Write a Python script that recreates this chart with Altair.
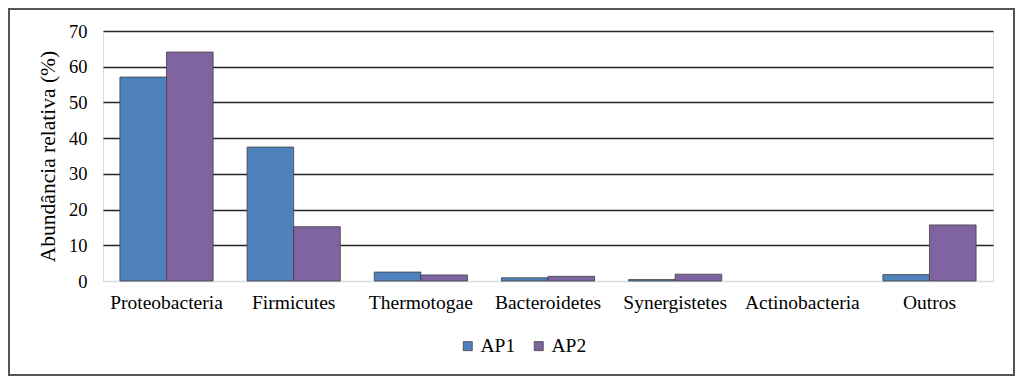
import altair as alt
import pandas as pd

categorias = ["Proteobacteria", "Firmicutes", "Thermotogae", "Bacteroidetes",
              "Synergistetes", "Actinobacteria", "Outros"]
ap1 = [57.1, 37.5, 2.5, 0.9, 0.4, 0.0, 1.8]
ap2 = [64.1, 15.2, 1.7, 1.3, 1.9, 0.0, 15.7]
series = ["AP1", "AP2"]
cores = ["#4F81BD", "#8064A2"]
y_ticks = [0, 10, 20, 30, 40, 50, 60, 70]

rows = []
for c, a, b in zip(categorias, ap1, ap2):
    rows.append({"categoria": c, "serie": "AP1", "valor": a})
    rows.append({"categoria": c, "serie": "AP2", "valor": b})
df = pd.DataFrame(rows)

FONT = "Liberation Serif"

bars = alt.Chart(df).mark_bar(stroke="#404040", strokeWidth=0.8).encode(
    x=alt.X("categoria:N", sort=categorias,
            scale=alt.Scale(domain=categorias, paddingInner=0.267, paddingOuter=0.133),
            axis=alt.Axis(title=None, labelAngle=0, ticks=False,
                          domainColor="#D9D9D9", domainWidth=1.2,
                          labelFont=FONT, labelFontSize=19.5, labelColor="#000000",
                          labelPadding=12)),
    xOffset=alt.XOffset("serie:N", sort=series,
                        scale=alt.Scale(domain=series, paddingInner=0, paddingOuter=0)),
    y=alt.Y("valor:Q",
            scale=alt.Scale(domain=[0, 70], nice=False),
            axis=alt.Axis(title="Abundância relativa (%)", values=y_ticks,
                          ticks=False, domain=False, grid=True,
                          gridColor={"condition": {"test": "datum.value === 0", "value": "#D9D9D9"},
                                     "value": "#262626"},
                          gridWidth=1.5,
                          labelFont=FONT, labelFontSize=18.5, labelColor="#000000",
                          labelPadding=16,
                          titleFont=FONT, titleFontSize=21.5, titleFontWeight="normal",
                          titleColor="#000000", titlePadding=9)),
    color=alt.Color("serie:N",
                    scale=alt.Scale(domain=series, range=cores),
                    legend=alt.Legend(title=None, orient="none", direction="horizontal",
                                      legendX=355, legendY=305,
                                      symbolType="square", symbolSize=81,
                                      symbolStrokeColor="#404040", symbolStrokeWidth=0.8,
                                      labelFont=FONT, labelFontSize=19.5, labelColor="#000000",
                                      labelOffset=3, columnPadding=13, padding=0)),
).transform_filter("datum.valor > 0")

frame = alt.Chart(pd.DataFrame({"k": [0]})).mark_rect(
    fillOpacity=0, stroke="#555555", strokeWidth=2
).encode(
    x=alt.value(-94), x2=alt.value(911), y=alt.value(-22), y2=alt.value(344)
)

chart = alt.layer(bars, frame).properties(
    width=890, height=250,
    autosize=alt.AutoSizeParams(type="none"),
    padding={"left": 95, "top": 23, "right": 23, "bottom": 97},
).configure_view(stroke=None).configure(background="white")

chart.save("out.html", embed_options={"renderer": "svg", "actions": False})
